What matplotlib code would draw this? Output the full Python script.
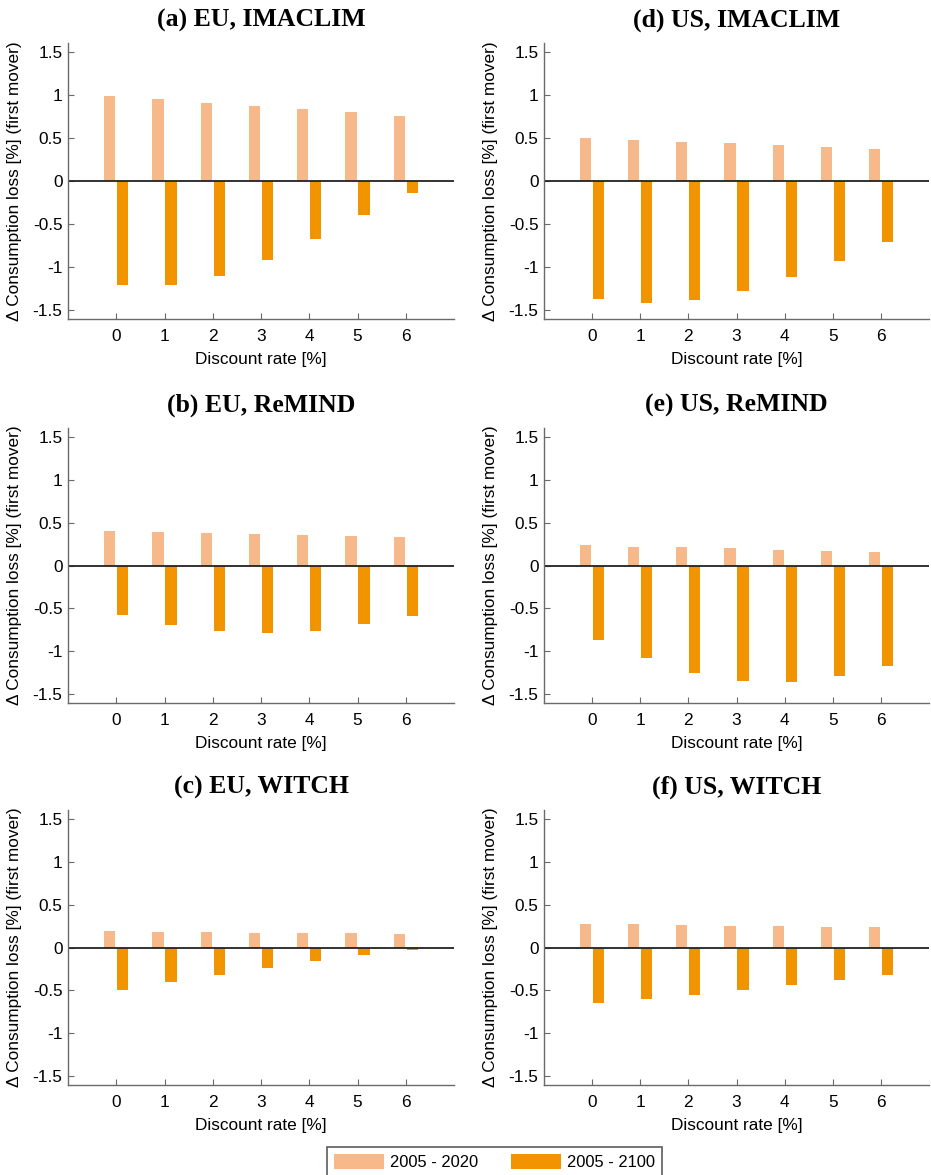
import matplotlib
matplotlib.use("Agg")
import matplotlib.pyplot as plt
from matplotlib.patches import Patch
import numpy as np

plt.rcParams['font.family'] = ['Liberation Sans', 'DejaVu Sans']

# discount rates on the x axis
rates = [0, 1, 2, 3, 4, 5, 6]
series_names = ['2005 - 2020', '2005 - 2100']
titles = ['(a) EU, IMACLIM', '(b) EU, ReMIND', '(c) EU, WITCH',
          '(d) US, IMACLIM', '(e) US, ReMIND', '(f) US, WITCH']

# Consumption loss difference [%] (first mover)
eu_imaclim_short = [0.99, 0.95, 0.91, 0.87, 0.83, 0.795, 0.757]
eu_imaclim_long = [-1.21, -1.20, -1.10, -0.915, -0.67, -0.394, -0.14]
eu_remind_short = [0.403, 0.391, 0.384, 0.368, 0.353, 0.345, 0.33]
eu_remind_long = [-0.578, -0.69, -0.764, -0.79, -0.76, -0.686, -0.59]
eu_witch_short = [0.19, 0.186, 0.186, 0.174, 0.17, 0.167, 0.159]
eu_witch_long = [-0.496, -0.407, -0.32, -0.236, -0.155, -0.085, -0.027]
us_imaclim_short = [0.50, 0.475, 0.456, 0.436, 0.413, 0.394, 0.37]
us_imaclim_long = [-1.37, -1.41, -1.38, -1.28, -1.116, -0.923, -0.707]
us_remind_short = [0.233, 0.22, 0.21, 0.198, 0.178, 0.17, 0.159]
us_remind_long = [-0.864, -1.078, -1.25, -1.345, -1.356, -1.287, -1.167]
us_witch_short = [0.279, 0.275, 0.267, 0.252, 0.248, 0.236, 0.233]
us_witch_long = [-0.647, -0.60, -0.547, -0.492, -0.434, -0.376, -0.32]

panels = [
    (eu_imaclim_short, eu_imaclim_long),
    (eu_remind_short, eu_remind_long),
    (eu_witch_short, eu_witch_long),
    (us_imaclim_short, us_imaclim_long),
    (us_remind_short, us_remind_long),
    (us_witch_short, us_witch_long),
]

light = '#F8B98A'
dark = '#F29400'
spine_col = '#6a6a6a'

W, H = 931, 1175
fig = plt.figure(figsize=(W / 100, H / 100), dpi=100)

# axes boxes in pixels: (left, top, right, bottom)
cols = [(68, 454), (544, 929)]
rows = [(43, 319), (428, 703), (810, 1085)]

x = np.array(rates)
bw = 0.23
for i, (short, long_) in enumerate(panels):
    c = i // 3
    r = i % 3
    l, rr = cols[c]
    t, b = rows[r]
    ax = fig.add_axes([l / W, 1 - b / H, (rr - l) / W, (b - t) / H])
    ax.bar(x - 0.135, short, width=bw, color=light, label=series_names[0])
    ax.bar(x + 0.135, long_, width=bw, color=dark, label=series_names[1])
    ax.axhline(0, color='#222222', lw=1.3)
    ax.set_xlim(-1, 7)
    ax.set_ylim(-1.6, 1.6)
    ax.set_xticks(rates)
    ax.set_yticks([-1.5, -1, -0.5, 0, 0.5, 1, 1.5])
    ax.set_yticklabels(['-1.5', '-1', '-0.5', '0', '0.5', '1', '1.5'])
    ax.tick_params(direction='in', length=4, color=spine_col, labelsize=12.4)
    ax.tick_params(axis='x', pad=7)
    ax.tick_params(axis='y', pad=4)
    for s in ['top', 'right']:
        ax.spines[s].set_visible(False)
    for s in ['left', 'bottom']:
        ax.spines[s].set_color(spine_col)
        ax.spines[s].set_linewidth(1.0)
    ax.set_xlabel('Discount rate [%]', fontsize=12.4, labelpad=6)
    ax.set_ylabel('\u0394 Consumption loss [%] (first mover)', fontsize=12.4)
    ax.yaxis.set_label_coords(-0.12, 0.5)
    ax.set_title(titles[i], fontsize=18.5, fontweight='bold',
                 family='Liberation Serif', pad=12)

handles = [Patch(facecolor=light, label=series_names[0]),
           Patch(facecolor=dark, label=series_names[1])]
leg = fig.legend(handles=handles, ncol=2, loc='upper left',
                 bbox_to_anchor=(327 / W, 1 - 1147 / H), fontsize=11.9,
                 frameon=True, fancybox=False, edgecolor='#333333',
                 handlelength=3.0, handleheight=1.0, handletextpad=0.36,
                 columnspacing=2.0, borderpad=0.45, borderaxespad=0)
leg.get_frame().set_linewidth(1.2)

fig.savefig('out.png', dpi=100)
